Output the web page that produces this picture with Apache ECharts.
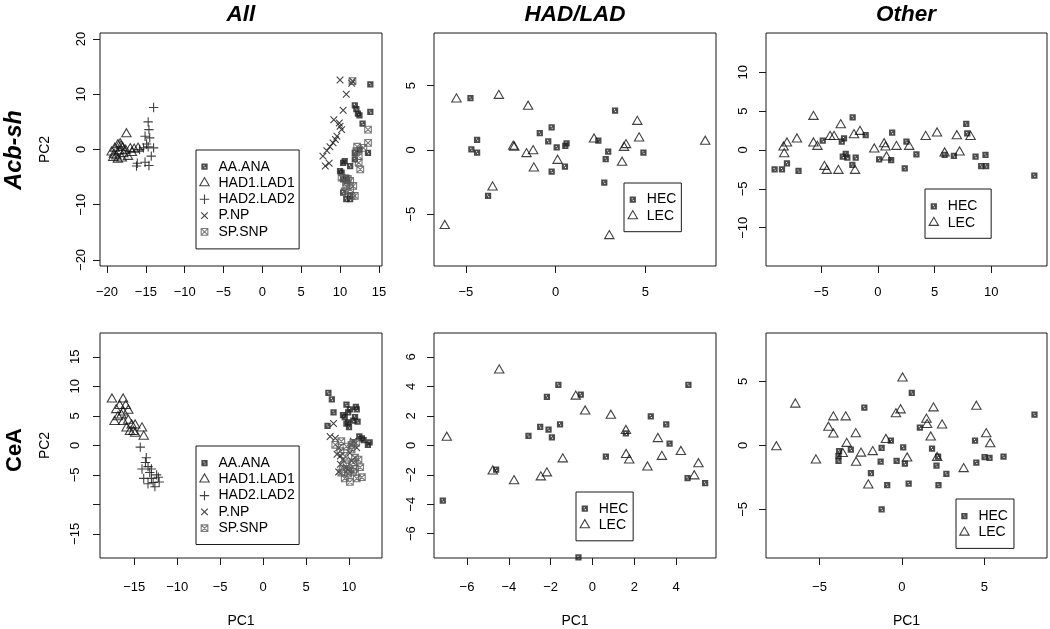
<!DOCTYPE html>
<html><head><meta charset="utf-8">
<script src="https://cdn.jsdelivr.net/npm/echarts@6/dist/echarts.min.js"></script>
<style>html,body{margin:0;padding:0;background:#fff;}#c{width:1050px;height:629px;}</style>
</head><body><div id="c"></div>
<script>
// ---------- data (PC1, PC2) ----------
const acbAllAA = [[13.9,11.8],[13.9,6.8],[11.9,8.0],[12.1,7.3],[12.5,6.2],[12.9,4.7],[13.6,-0.6],[11.9,-0.6],[12.3,6.5],[10.4,-2.4],[10.0,-3.9],[10.4,-7.8],[10.8,-9.0],[10.4,-5.4],[12.5,0.0],[10.6,-2.1],[11.3,-3.0],[10.8,-5.1],[11.3,-8.4],[11.9,-1.8],[10.2,-4.2],[11.3,-9.0],[10.9,-5.7]];
const acbAllHAD1 = [[-19.4,-0.5],[-19.2,-1.5],[-19.0,0.2],[-18.8,-1.2],[-18.6,0.8],[-18.4,-0.3],[-18.3,1.0],[-18.1,-1.6],[-18.0,0.3],[-17.9,-0.8],[-17.5,2.8],[-17.6,-0.2],[-17.3,-1.3],[-17.0,0.1],[-16.8,-0.6],[-16.5,0.0],[-16.0,0.2],[-18.6,-1.8],[-19.1,-0.9],[-18.2,0.6]];
const acbAllHAD2 = [[-14.0,7.6],[-14.7,5.0],[-14.6,3.6],[-15.1,2.4],[-14.5,2.1],[-15.3,0.3],[-14.7,0.5],[-14.0,0.3],[-14.3,-1.2],[-16.2,-3.0],[-15.1,-2.3],[-14.6,-2.9],[-15.8,0.0],[-16.1,-2.5],[-14.9,1.0]];
const acbAllPNP = [[10.0,12.6],[11.6,12.4],[10.8,10.0],[10.4,7.1],[9.2,5.4],[9.9,4.8],[10.2,3.6],[9.6,2.4],[9.1,1.2],[8.7,0.5],[8.3,-0.2],[7.8,-1.2],[8.1,-3.0],[8.6,-2.5],[10.0,4.2],[9.4,1.8],[11.5,12.0]];
const acbAllSP = [[13.6,3.6],[13.6,1.2],[13.0,0.3],[12.4,-1.2],[12.4,-2.4],[12.6,-3.6],[11.7,-6.6],[11.5,-8.4],[11.9,-8.4],[10.8,-6.6],[11.3,-5.7],[12.1,-0.3],[10.2,-5.1],[10.8,-6.0],[11.3,-7.2],[12.2,0.5],[11.6,12.4],[10.6,-7.6],[11.0,-5.3]];

const acbHadHEC = [[-4.74,4.02],[-4.37,0.78],[-4.69,0.05],[-4.37,-0.21],[-3.76,-3.57],[-0.88,1.3],[-0.41,0.67],[-0.22,1.76],[0.06,0.2],[0.61,0.52],[0.54,0.31],[0.52,-1.29],[-0.22,-1.68],[2.38,0.72],[3.31,3.06],[2.93,-0.13],[2.79,-0.72],[2.71,-2.54],[4.89,-0.21]];
const acbHadLEC = [[-5.52,3.94],[-3.16,4.22],[-1.53,3.37],[-3.51,-2.9],[-6.17,-5.9],[-2.36,0.26],[-2.3,0.2],[-1.62,-0.31],[-1.25,-0.08],[-1.21,-1.42],[0.11,-0.83],[2.14,0.83],[2.99,-6.68],[3.7,-0.98],[3.81,0.18],[3.92,0.39],[4.55,2.2],[4.65,0.91],[8.33,0.65]];

const acbOthHEC = [[-9.12,-2.49],[-8.47,-2.49],[-8.03,-1.72],[-7.01,-2.7],[-4.87,1.2],[-3.19,1.07],[-2.99,1.5],[-3.1,-0.86],[-2.84,-0.51],[-2.7,-0.99],[-2.23,4.21],[-2.26,-1.93],[-1.96,-0.99],[-1.08,1.93],[0.11,-1.2],[1.17,-1.29],[1.26,2.23],[2.37,-2.36],[2.52,1.07],[3.4,-0.56],[5.89,-0.64],[6.71,-0.77],[7.8,3.35],[7.89,2.14],[8.62,-0.86],[9.5,-0.64],[9.12,-2.06],[9.56,-2.06],[13.81,-3.3]];
const acbOthLEC = [[-8.03,0.86],[-8.33,0.35],[-8.27,-0.51],[-7.15,1.37],[-5.69,4.29],[-5.69,0.86],[-5.34,0.43],[-4.72,-2.15],[-4.51,-2.66],[-3.49,-2.66],[-4.22,1.71],[-3.87,1.71],[-3.28,3.22],[-2.02,-2.66],[-2.11,1.93],[-1.58,2.36],[-0.32,0.09],[0.55,0.77],[0.67,0.35],[0.76,-0.94],[1.64,0.43],[2.76,0.43],[4.22,1.71],[5.22,2.15],[6.97,1.8],[7.21,-0.3],[8.18,1.71],[5.89,-0.43]];

const ceaAllAA = [[7.6,8.9],[8.0,7.8],[8.2,5.6],[7.5,3.3],[9.7,6.9],[9.9,5.6],[9.5,4.8],[10.1,6.1],[9.7,3.7],[10.0,3.1],[10.7,4.8],[10.9,6.1],[11.2,1.5],[10.8,6.5],[9.3,5.1],[10.5,4.2],[11.7,0.9],[12.4,0.5],[12.2,0.1],[11.0,4.0],[9.9,3.9],[11.5,1.2]];
const ceaAllHAD1 = [[-17.6,7.8],[-16.3,7.8],[-17.1,6.0],[-17.3,4.0],[-16.0,6.7],[-15.7,5.9],[-16.5,5.1],[-16.3,4.0],[-15.9,2.9],[-15.3,3.4],[-14.9,3.4],[-14.9,2.0],[-14.1,2.9],[-13.9,1.5],[-15.5,2.3],[-15.7,4.2],[-16.7,6.7],[-16.3,5.6],[-16.9,4.8],[-15.1,2.3]];
const ceaAllHAD2 = [[-14.3,-0.3],[-13.6,-2.1],[-13.7,-2.9],[-14.1,-4.0],[-13.4,-3.6],[-13.9,-5.6],[-13.2,-4.6],[-13.0,-5.6],[-13.4,-6.5],[-12.2,-5.4],[-12.1,-6.2],[-12.6,-7.0],[-12.4,-5.0],[-12.8,-6.3],[-13.0,-4.0]];
const ceaAllPNP = [[8.2,3.7],[7.8,1.5],[8.4,1.2],[8.8,-0.4],[9.0,-1.8],[9.3,-2.4],[8.8,-4.5],[9.7,-3.7],[10.1,-1.3],[10.3,-2.6],[10.9,-0.4],[10.5,0.7],[8.6,-1.5],[9.0,-3.2],[9.9,-4.2]];
const ceaAllSP = [[8.4,0.1],[9.1,0.7],[9.7,-0.2],[10.3,0.1],[10.8,0.4],[9.0,-1.0],[9.5,-1.8],[10.7,-2.1],[9.3,-4.0],[9.9,-4.8],[10.5,-4.5],[9.5,-5.6],[10.1,-6.2],[10.9,-5.6],[10.5,0.4],[10.3,-0.7],[11.1,-2.4],[10.5,-2.9],[9.7,-3.2],[10.7,-4.0],[11.3,-3.7],[10.1,-4.3],[11.5,-5.4],[9.1,-4.6]];

const ceaHadHEC = [[-7.16,-3.76],[-4.61,-1.65],[-3.06,0.64],[-2.5,1.25],[-2.18,3.3],[-2.1,1.07],[-1.94,0.55],[-1.63,4.11],[-1.55,1.43],[-0.56,3.45],[-0.67,-7.6],[0.64,-0.77],[1.6,0.81],[2.79,1.96],[3.53,1.43],[3.69,0.11],[4.59,4.11],[4.55,-2.22],[5.39,-2.57]];
const ceaHadLEC = [[-6.97,0.53],[-4.46,5.1],[-4.77,-1.76],[-3.75,-2.42],[-2.47,-2.16],[-2.18,-1.89],[-1.42,-0.94],[-0.8,3.32],[-0.35,2.31],[0.88,2.02],[1.6,0.99],[1.61,-0.64],[1.76,-1.01],[2.63,-1.49],[3.13,0.44],[3.32,-0.77],[4.23,-0.44],[4.87,-2.09],[5.07,-1.27]];

const ceaOthHEC = [[-2.28,2.95],[0.6,4.09],[8.05,2.4],[1.09,1.39],[-3.81,-0.45],[-3.85,-0.83],[-3.85,-1.21],[-3.1,-0.33],[-1.23,-0.2],[-1.29,-1.27],[-1.88,-2.17],[-0.89,-3.11],[-1.23,-5.0],[-0.67,0.38],[-0.32,-1.21],[0.08,-0.15],[0.18,-1.42],[0.41,-2.98],[1.83,-0.25],[2.1,-1.59],[2.2,-0.88],[2.22,-3.11],[2.7,-2.22],[4.44,0.38],[4.52,-1.34],[5.02,-0.91],[5.32,-0.98],[6.17,-0.88]];
const ceaOthLEC = [[-7.62,-0.13],[-6.47,3.2],[-5.22,-1.16],[-4.46,1.39],[-4.16,2.2],[-4.16,0.86],[-3.41,2.2],[-3.35,0.13],[-3.59,-0.66],[-2.8,0.89],[-2.78,-1.34],[-2.48,-0.63],[-1.77,-0.51],[-2.04,-3.11],[-0.97,0.43],[-0.36,2.45],[-0.08,2.75],[0.04,5.23],[0.32,-1.01],[1.49,2.02],[1.53,1.61],[1.75,0.63],[1.92,2.9],[2.14,-0.96],[2.44,1.57],[3.75,-1.84],[4.52,3.03],[5.12,0.89],[5.36,0.1]];

// ---------- tick values ----------
const xTicks1 = [-20,-15,-10,-5,0,5,10,15];
const yTicks1 = [-20,-10,0,10,20];
const xTicks2 = [-5,0,5];
const yTicks2 = [-5,0,5];
const xTicks3 = [-5,0,5,10];
const yTicks3 = [-10,-5,0,5,10];
const xTicks4 = [-15,-10,-5,0,5,10];
const yTicks4 = [-15,-10,-5,0,5,10,15];
const yLabels4 = [-15,-5,0,5,10,15];
const xTicks5 = [-6,-4,-2,0,2,4];
const yTicks5 = [-6,-4,-2,0,2,4,6];
const xTicks6 = [-5,0,5];
const yTicks6 = [-5,0,5];

const groupNames = ['AA.ANA','HAD1.LAD1','HAD2.LAD2','P.NP','SP.SNP'];
const ecNames = ['HEC','LEC'];
const colTitles = ['All','HAD/LAD','Other'];
const rowTitles = ['Acb-sh','CeA'];

// ---------- styling ----------
const FONT = '"Liberation Sans", Arial, Helvetica, sans-serif';
const FR = 'M-1,-1M11,11';
const SYM = {
  sqFill: 'path://' + FR + 'M2,2L8,2L8,8L2,8ZM4,3.6L4,4.6L5,4.6L5,3.6ZM5,5.4L5,6.4L6,6.4L6,5.4Z',
  tri: 'path://' + FR + 'M0.5,7.6L9.5,7.6L5,-0.2Z',
  plus: 'path://' + FR + 'M0.5,5L9.5,5M5,0.5L5,9.5',
  cross: 'path://' + FR + 'M1.8,1.8L8.2,8.2M8.2,1.8L1.8,8.2',
  sqX: 'path://' + FR + 'M1.8,1.8L8.2,1.8L8.2,8.2L1.8,8.2ZM1.8,1.8L8.2,8.2M8.2,1.8L1.8,8.2'
};
const NONE = 'rgba(255,255,255,0)';
const LW = 1.1;
const STYLE = {
  'AA.ANA':   {symbol: SYM.sqFill, itemStyle: {color: '#1e1e1e', borderWidth: 0}},
  'HAD1.LAD1':{symbol: SYM.tri,   itemStyle: {color: NONE, borderColor: '#111', borderWidth: LW}},
  'HAD2.LAD2':{symbol: SYM.plus,  itemStyle: {color: NONE, borderColor: '#111', borderWidth: LW}},
  'P.NP':     {symbol: SYM.cross, itemStyle: {color: NONE, borderColor: '#111', borderWidth: LW}},
  'SP.SNP':   {symbol: SYM.sqX,   itemStyle: {color: NONE, borderColor: '#5a5a5a', borderWidth: LW}},
  'HEC':      {symbol: SYM.sqFill, itemStyle: {color: '#1e1e1e', borderWidth: 0}},
  'LEC':      {symbol: SYM.tri,   itemStyle: {color: NONE, borderColor: '#111', borderWidth: LW}}
};
const fmt = v => (v < 0 ? '\u2212' + Math.abs(v) : String(v));

const panels = [
  {grid:{left:100, top:33, width:282, height:233}, x:[-20.9,15.4], y:[-21.1,21.1], xt:xTicks1, yt:yTicks1, yl:yTicks1, ym:12,
   series:[['AA.ANA',acbAllAA],['HAD1.LAD1',acbAllHAD1],['HAD2.LAD2',acbAllHAD2],['P.NP',acbAllPNP],['SP.SNP',acbAllSP]], bottom:false},
  {grid:{left:434, top:33, width:282, height:233}, x:[-6.77,8.93], y:[-9.02,9.09], xt:xTicks2, yt:yTicks2, yl:yTicks2, ym:16.5,
   series:[['HEC',acbHadHEC],['LEC',acbHadLEC]], bottom:false},
  {grid:{left:766, top:33, width:281, height:233}, x:[-9.88,14.93], y:[-14.93,15.06], xt:xTicks3, yt:yTicks3, yl:yTicks3, ym:16.5,
   series:[['HEC',acbOthHEC],['LEC',acbOthLEC]], bottom:false},
  {grid:{left:100, top:333, width:282, height:232}, x:[-18.99,13.84], y:[-19.08,19.03], xt:xTicks4, yt:yTicks4, yl:yLabels4, ym:18,
   series:[['AA.ANA',ceaAllAA],['HAD1.LAD1',ceaAllHAD1],['HAD2.LAD2',ceaAllHAD2],['P.NP',ceaAllPNP],['SP.SNP',ceaAllSP]], bottom:true},
  {grid:{left:434, top:333, width:282, height:232}, x:[-7.58,5.91], y:[-7.65,7.63], xt:xTicks5, yt:yTicks5, yl:yTicks5, ym:16.5,
   series:[['HEC',ceaHadHEC],['LEC',ceaHadLEC]], bottom:true},
  {grid:{left:766, top:333, width:281, height:232}, x:[-8.25,8.81], y:[-8.79,8.77], xt:xTicks6, yt:yTicks6, yl:yTicks6, ym:16.5,
   series:[['HEC',ceaOthHEC],['LEC',ceaOthLEC]], bottom:true}
];

const grid = [], xAxis = [], yAxis = [], series = [];
panels.forEach((p, i) => {
  grid.push(Object.assign({show:true, borderColor:'#1a1a1a', borderWidth:1, backgroundColor:'transparent', containLabel:false}, p.grid));
  const common = {type:'value', gridIndex:i, axisLine:{show:false, onZero:false}, splitLine:{show:false},
    axisTick:{show:true, inside:false, length:7, lineStyle:{color:'#1a1a1a', width:1}}};
  xAxis.push(Object.assign({}, common, {min:p.x[0], max:p.x[1], position:'bottom',
    axisTick:Object.assign({}, common.axisTick, {customValues:p.xt}),
    axisLabel:{customValues:p.xt, formatter:fmt, margin: p.bottom ? 23 : 20, fontSize:13, color:'#000', fontFamily:FONT, hideOverlap:false},
    name: p.bottom ? 'PC1' : '', nameLocation:'middle', nameGap:56,
    nameTextStyle:{fontSize:14, color:'#000', fontFamily:FONT}}));
  yAxis.push(Object.assign({}, common, {min:p.y[0], max:p.y[1], position:'left',
    axisTick:Object.assign({}, common.axisTick, {customValues:p.yt}),
    axisLabel:{customValues:p.yl, formatter:fmt, rotate:90, margin:p.ym, fontSize:13, color:'#000', fontFamily:FONT, hideOverlap:false},
    name: (i % 3 === 0) ? 'PC2' : '', nameLocation:'middle', nameGap:48,
    nameTextStyle:{fontSize:14, color:'#000', fontFamily:FONT}}));
  p.series.forEach(([name, data]) => {
    const st = STYLE[name];
    series.push({type:'scatter', name, xAxisIndex:i, yAxisIndex:i, data, symbol:st.symbol, symbolSize:12.5,
      itemStyle:st.itemStyle, clip:false, silent:true, emphasis:{disabled:true}, animation:false});
  });
});

function legendData(names){
  return names.map(n => ({name:n, icon:STYLE[n].symbol, itemStyle:STYLE[n].itemStyle}));
}
const legBase = {orient:'vertical', itemWidth:18, itemHeight:12.5, itemGap:0.3, selectedMode:false,
  borderColor:'#1a1a1a', borderWidth:1, backgroundColor:'#fff', symbolKeepAspect:true,
  textStyle:{fontSize:14, color:'#000', fontFamily:FONT, lineHeight:16}};
const legend = [
  Object.assign({}, legBase, {left:196, top:150, padding:[8.7,4.4,9,1.7], data:legendData(groupNames)}),
  Object.assign({}, legBase, {left:624, top:183, padding:[8.6,5,7.7,2], itemGap:0.4, data:legendData(ecNames)}),
  Object.assign({}, legBase, {left:925, top:189, padding:[9.3,13.8,7.6,2], itemGap:0.4, data:legendData(ecNames)}),
  Object.assign({}, legBase, {left:196, top:446, padding:[9,4.4,8.3,1.7], data:legendData(groupNames)}),
  Object.assign({}, legBase, {left:576, top:492, padding:[8.7,4.8,7.7,2], itemGap:0.4, data:legendData(ecNames)}),
  Object.assign({}, legBase, {left:956, top:499, padding:[9,6,8,1.6], itemGap:0.4, data:legendData(ecNames)})
];

function txt(text, x, y, font, rot){
  return {type:'text', x, y, rotation: rot || 0, silent:true,
    style:{text, font, fill:'#000', align:'center', verticalAlign:'middle', textAlign:'center', textVerticalAlign:'middle'}};
}
const graphic = [
  txt(colTitles[0], 241, 15, 'italic bold 22.5px ' + FONT),
  txt(colTitles[1], 575, 15, 'italic bold 22.5px ' + FONT),
  txt(colTitles[2], 906, 15, 'italic bold 22.5px ' + FONT),
  txt(rowTitles[0], 15, 150, 'italic bold 23.5px ' + FONT, Math.PI/2),
  txt(rowTitles[1], 15, 450, 'bold 22px ' + FONT, Math.PI/2)
];

const chart = echarts.init(document.getElementById('c'), null, {renderer:'canvas'});
chart.setOption({animation:false, backgroundColor:'#fff', grid, xAxis, yAxis, series, legend, graphic});
</script>
</body></html>
